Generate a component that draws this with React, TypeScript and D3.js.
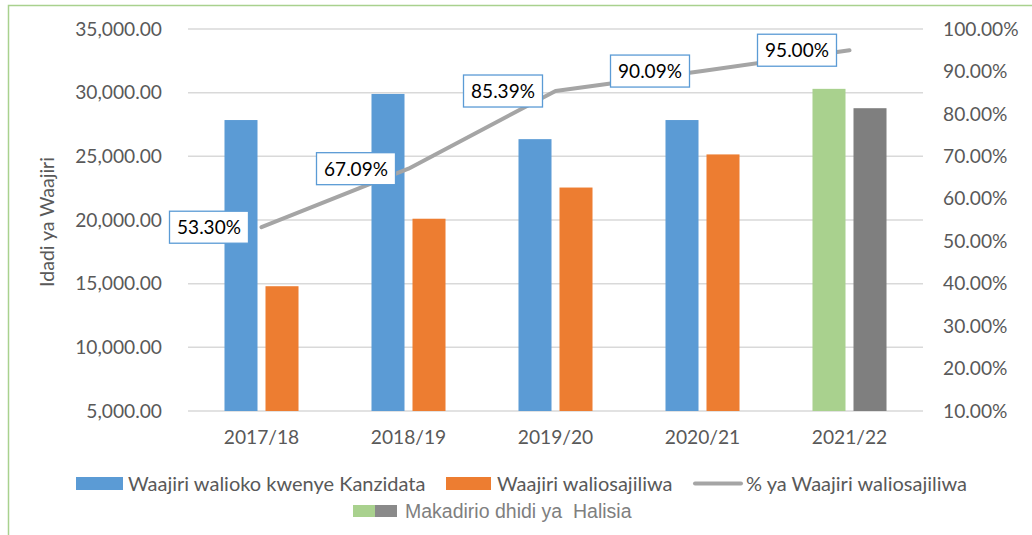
import React from 'react';
import * as d3 from 'd3';

const categories = ['2017/18', '2018/19', '2019/20', '2020/21', '2021/22'];
const kanzidata: (number | null)[] = [27850, 29900, 26350, 27850, null];
const waliosajiliwa: (number | null)[] = [14800, 20100, 22550, 25150, null];
const makadirio: (number | null)[] = [null, null, null, null, 30300];
const halisia: (number | null)[] = [null, null, null, null, 28780];
const percent = [53.3, 67.09, 85.39, 90.09, 95.0];
const leftTicks = [5000, 10000, 15000, 20000, 25000, 30000, 35000];
const rightTicks = [10, 20, 30, 40, 50, 60, 70, 80, 90, 100];

const FONT = 'Lato, "Open Sans", sans-serif';
const BLUE = '#5b9bd5';
const ORANGE = '#ed7d31';
const GREEN = '#a9d18e';
const GRAY = '#7f7f7f';
const LINE = '#a5a5a5';
const TXT = '#595959';

export default function App() {
  const W = 1032, H = 535;
  const left = 188, right = 923, top = 29, bottom = 411;
  const x = d3.scaleBand<string>().domain(categories).range([left, right]).padding(0);
  const sub = d3.scaleBand<string>().domain(['a', 'b']).range([0, x.bandwidth()]).paddingInner(0.195).paddingOuter(0.89);
  const yL = d3.scaleLinear().domain([5000, 35000]).range([bottom, top]);
  const yR = d3.scaleLinear().domain([10, 100]).range([bottom, top]);
  const fmtL = (v: number) => d3.format(',.2f')(v);
  const fmtR = (v: number) => d3.format('.2f')(v) + '%';

  const series = [
    { data: kanzidata, key: 'a', color: BLUE },
    { data: waliosajiliwa, key: 'b', color: ORANGE },
    { data: makadirio, key: 'a', color: GREEN },
    { data: halisia, key: 'b', color: GRAY },
  ];

  const cx = (c: string) => (x(c) as number) + x.bandwidth() / 2;
  const line = d3.line<number>().x((_, i) => cx(categories[i])).y((d) => yR(d));
  const FS = 19.2;

  return (
    <div style={{ position: 'fixed', left: 0, top: 0 }}>
      <svg width={W} height={H} style={{ display: 'block', background: '#fff' }}>
        <path d={`M8.5,${H} L8.5,5.5 L${W + 2},5.5`} fill="none" stroke="#a9d18e" strokeWidth={1.5} />
        {leftTicks.map((t) => (
          <line key={t} x1={left} x2={right} y1={yL(t)} y2={yL(t)} stroke="#d9d9d9" strokeWidth={1.5} />
        ))}
        {leftTicks.map((t) => (
          <text key={'l' + t} x={162} y={yL(t)} dy="0.35em" textAnchor="end" fontFamily={FONT} fontSize={FS} fill={TXT}>
            {fmtL(t)}
          </text>
        ))}
        {rightTicks.map((t) => (
          <text key={'r' + t} x={943} y={yR(t)} dy="0.35em" textAnchor="start" fontFamily={FONT} fontSize={FS} fill={TXT}>
            {fmtR(t)}
          </text>
        ))}
        <text transform={`translate(54,${(top + bottom) / 2 + 2}) rotate(-90)`} textAnchor="middle" fontFamily={FONT} fontSize={19.5} fill={TXT}>
          Idadi ya Waajiri
        </text>
        {series.map((s, si) =>
          s.data.map((v, i) =>
            v == null ? null : (
              <rect
                key={si + '-' + i}
                x={(x(categories[i]) as number) + (sub(s.key) as number)}
                y={yL(v)}
                width={sub.bandwidth()}
                height={bottom - yL(v)}
                fill={s.color}
              />
            )
          )
        )}
        {categories.map((c) => (
          <text key={c} x={cx(c)} y={437} dy="0.35em" textAnchor="middle" fontFamily={FONT} fontSize={FS} fill={TXT}>
            {c}
          </text>
        ))}
        <path d={line(percent) || ''} fill="none" stroke={LINE} strokeWidth={4} strokeLinecap="round" strokeLinejoin="round" />
        {percent.map((p, i) => {
          const px = cx(categories[i]);
          const py = yR(p);
          const bw = 79, bh = 32;
          const bx = px - 13 - bw;
          return (
            <g key={'lab' + i}>
              <rect x={bx} y={py - bh / 2} width={bw} height={bh} fill="#fff" stroke={BLUE} strokeWidth={1.3} />
              <text x={bx + bw / 2} y={py} dy="0.36em" textAnchor="middle" fontFamily={FONT} fontSize={19} fill="#000">
                {fmtR(p)}
              </text>
            </g>
          );
        })}
        <rect x={76} y={477} width={47} height={13} fill={BLUE} />
        <text x={128} y={483.5} dy="0.35em" fontFamily={FONT} fontSize={20} fill={TXT}>Waajiri walioko kwenye Kanzidata</text>
        <rect x={446} y={477} width={45} height={13} fill={ORANGE} />
        <text x={497} y={483.5} dy="0.35em" fontFamily={FONT} fontSize={20} fill={TXT}>Waajiri waliosajiliwa</text>
        <line x1={695} x2={741} y1={483.5} y2={483.5} stroke={LINE} strokeWidth={4} strokeLinecap="round" />
        <text x={746} y={483.5} dy="0.35em" fontFamily={FONT} fontSize={20} fill={TXT}>% ya Waajiri waliosajiliwa</text>
        <rect x={353} y={505} width={22} height={12} fill={GREEN} />
        <rect x={375} y={505} width={22} height={12} fill="#8a8a8a" />
        <text x={405} y={511} dy="0.35em" fontFamily='"Liberation Sans", Arial, sans-serif' fontSize={19.5} fill="#7f7f7f" style={{ whiteSpace: 'pre' }}>
          {'Makadirio dhidi ya  Halisia'}
        </text>
      </svg>
    </div>
  );
}
